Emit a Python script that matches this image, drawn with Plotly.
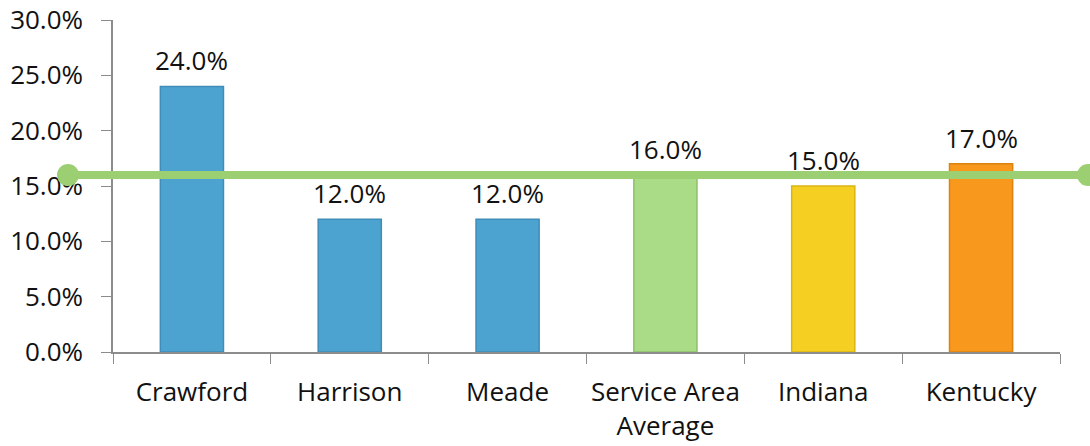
import plotly.graph_objects as go

categories = ["Crawford", "Harrison", "Meade", "Service Area<br>Average", "Indiana", "Kentucky"]
values = [24.0, 12.0, 12.0, 16.0, 15.0, 17.0]
avg_value = 16.0
avg_line_x = [0, 1]
y_ticks = [0, 5, 10, 15, 20, 25, 30]

bar_colors = ["#4DA3CF", "#4DA3CF", "#4DA3CF", "#AADB86", "#F5D022", "#F8991E"]
bar_edges = ["#3F8DB8", "#3F8DB8", "#3F8DB8", "#8EC06C", "#D9B512", "#DC8210"]

FONT = "Open Sans"
FS = 26

fig = go.Figure()
fig.add_trace(go.Bar(
    x=categories, y=values, width=0.4,
    marker=dict(color=bar_colors, line=dict(color=bar_edges, width=1.5)),
    showlegend=False, hoverinfo="skip",
))
# average reference line on its own wider x axis (spans beyond the bar area)
fig.add_trace(go.Scatter(
    x=avg_line_x, y=[avg_value] * len(avg_line_x), xaxis="x2", yaxis="y",
    mode="lines+markers",
    line=dict(color="#9CCF72", width=8),
    marker=dict(size=22, color="#9CCF72"),
    cliponaxis=False, showlegend=False, hoverinfo="skip",
))

for c, v in zip(categories, values):
    fig.add_annotation(
        x=c, y=v, xref="x", yref="y", text=f"{v:.1f}%", showarrow=False,
        yanchor="middle", yshift=26,
        font=dict(size=FS, color="#111", family=FONT),
    )

fig.update_layout(
    width=1090, height=446,
    margin=dict(l=40, r=0, t=20, b=94, autoexpand=False),
    plot_bgcolor="rgba(0,0,0,0)", paper_bgcolor="white",
    font=dict(family=FONT, size=FS, color="#111"),
    xaxis=dict(
        domain=[0.069524, 0.971429],
        showline=True, linecolor="#8c8c8c", linewidth=1.5,
        ticks="outside", ticklen=10, tickcolor="#8c8c8c",
        tickson="boundaries", showgrid=False, automargin=False,
        ticklabelstandoff=16, tickangle=0,
        tickfont=dict(size=FS, color="#111"),
    ),
    xaxis2=dict(domain=[0, 1], anchor="y", type="linear", autorange=False,
                range=[-0.02745, 1.00196], visible=False),
    yaxis=dict(
        anchor="x", range=[0, 30], tickvals=y_ticks,
        ticktext=[f"{t:.1f}%" for t in y_ticks],
        showline=True, linecolor="#8c8c8c", linewidth=1.5,
        ticks="outside", ticklen=10, tickcolor="#8c8c8c",
        showgrid=False, zeroline=False, automargin=False,
        ticklabelstandoff=13, ticklabeloverflow="allow",
        tickfont=dict(size=FS, color="#111"),
    ),
)

fig.write_html("out.html", config={"displayModeBar": False},
               post_script="document.body.style.margin='0';")
